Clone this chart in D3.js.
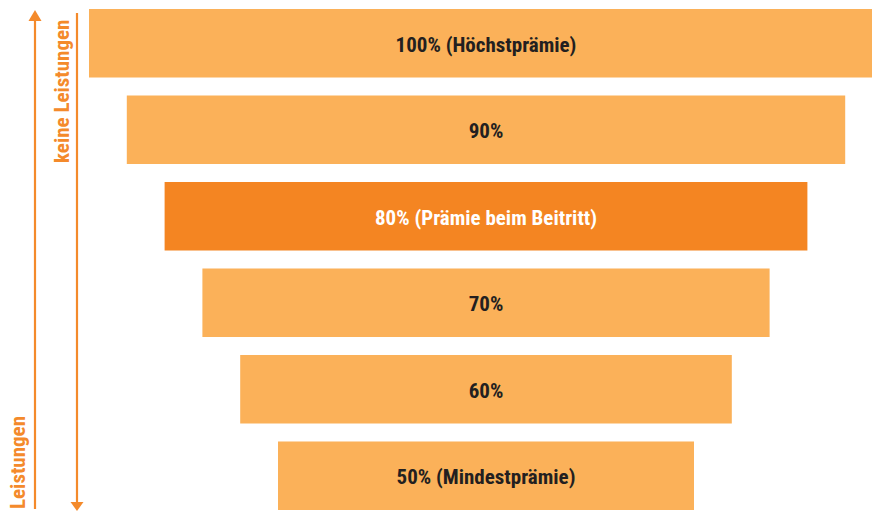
<!DOCTYPE html>
<html><head><meta charset="utf-8">
<script src="https://cdn.jsdelivr.net/npm/d3@7"></script>
<style>
html,body{margin:0;padding:0;background:#fff;overflow:hidden}
text{font-family:"Liberation Sans Narrow","Arial Narrow","Roboto Condensed","Liberation Sans",sans-serif;font-weight:bold}
</style></head><body>
<svg id="c" width="872" height="512"></svg>
<script>
const categories = ["100% (Höchstprämie)","90%","80% (Prämie beim Beitritt)","70%","60%","50% (Mindestprämie)"];
const values = [100, 90, 80, 70, 60, 50];
const highlight = [false, false, true, false, false, false];
const axisLabels = ["keine Leistungen", "Leistungen"];

const svg = d3.select("#c");
const light = "#FBB159", dark = "#F48522", arrowCol = "#F48A2B";

const y = d3.scaleBand().domain(categories).range([9, 510]).paddingInner(0.208).paddingOuter(0);
const w = d3.scaleLinear().domain([50, 100]).range([416, 794]);
const cx = 486;

const g = svg.append("g");
g.selectAll("rect").data(categories).join("rect")
  .attr("x", (d,i) => cx - w(values[i])/2)
  .attr("y", d => y(d))
  .attr("width", (d,i) => w(values[i]))
  .attr("height", y.bandwidth())
  .attr("fill", (d,i) => highlight[i] ? dark : light);

g.selectAll("text.lab").data(categories).join("text").attr("class","lab")
  .attr("x", cx)
  .attr("y", d => y(d) + y.bandwidth()/2 + 8.5)
  .attr("text-anchor","middle")
  .attr("font-size", 21)
  .attr("fill", (d,i) => highlight[i] ? "#fff" : "#231F20")
  .text(d => d);

// up arrow at x=35
svg.append("line").attr("x1",35).attr("x2",35).attr("y1",509).attr("y2",18)
  .attr("stroke",arrowCol).attr("stroke-width",2.2);
svg.append("path").attr("d","M35,10 L41.5,21 L28.5,21 Z").attr("fill",arrowCol);
// down arrow at x=77
svg.append("line").attr("x1",77).attr("x2",77).attr("y1",13).attr("y2",503)
  .attr("stroke",arrowCol).attr("stroke-width",2.2);
svg.append("path").attr("d","M77,511 L83.5,502 L70.5,502 Z").attr("fill",arrowCol);

svg.append("text").attr("transform","translate(69,163) rotate(-90)")
  .attr("font-size",21).attr("fill",arrowCol).text(axisLabels[0]);
svg.append("text").attr("transform","translate(25,509) rotate(-90)")
  .attr("font-size",21).attr("fill",arrowCol).text(axisLabels[1]);
</script>
</body></html>
